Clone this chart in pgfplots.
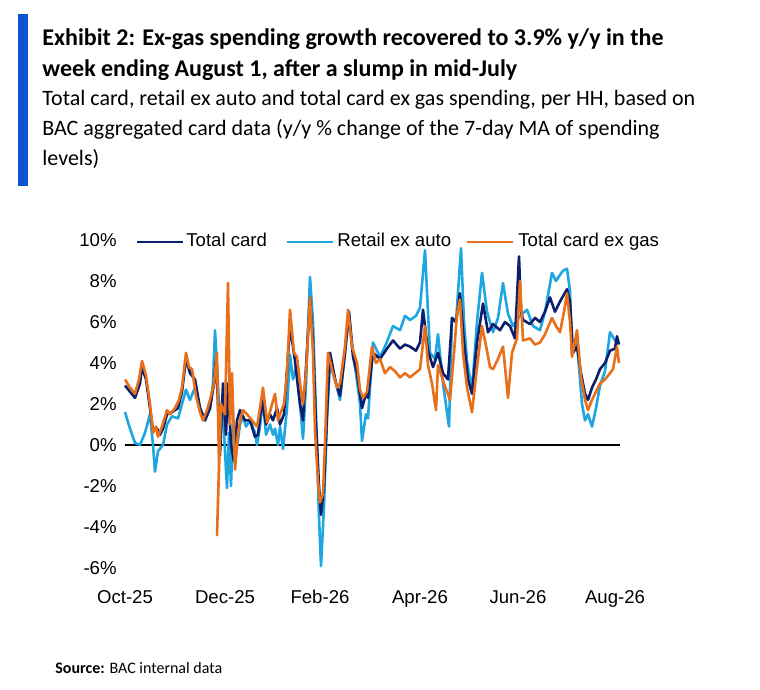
\documentclass[border=0pt]{standalone}
\usepackage{pgfplots}
\pgfplotsset{compat=1.18}
\usepackage{fontspec}
\setmainfont{Carlito}
\newfontfamily\arial{Liberation Sans}
\definecolor{navyc}{HTML}{0B1F6E}
\definecolor{lblue}{HTML}{1EA6E0}
\definecolor{orng}{HTML}{E8701A}
\definecolor{bacblue}{HTML}{0A55D0}
\begin{document}
\begin{tikzpicture}
\begin{scope}[x=0.5pt,y=-0.5pt]
\path[use as bounding box,fill=white] (0,0) rectangle (760,690);
\fill[bacblue] (18,14) rectangle (28,186);
\node[anchor=base west,font=\fontsize{12}{13}\selectfont\bfseries,inner sep=0] at (42,46) {Exhibit 2: Ex-gas spending growth recovered to 3.9\% y/y in the};
\node[anchor=base west,font=\fontsize{12}{13}\selectfont\bfseries,inner sep=0] at (42,76) {week ending August 1, after a slump in mid-July};
\node[anchor=base west,font=\fontsize{11}{13}\selectfont,inner sep=0] at (42,105) {Total card, retail ex auto and total card ex gas spending, per HH, based on};
\node[anchor=base west,font=\fontsize{11}{13}\selectfont,inner sep=0] at (42,135) {BAC aggregated card data (y/y \% change of the 7-day MA of spending};
\node[anchor=base west,font=\fontsize{11}{13}\selectfont,inner sep=0] at (42,165) {levels)};
\node[anchor=base west,font=\fontsize{8}{10}\selectfont,inner sep=0] at (55,673) {\textbf{Source:} BAC internal data};
\end{scope}
\begin{axis}[at={(62.5pt,-284pt)},anchor=south west,scale only axis,
  width=247.5pt,height=164pt,
  xmin=125,xmax=620,ymin=-6,ymax=10,
  axis lines=none,clip=false,
  every axis plot/.append style={line width=1.3pt,line join=round},
  ]
\addplot[black,line width=1pt,forget plot] coordinates {(125,0)(620,0)};
\foreach \v/\l in {10/10\%,8/8\%,6/6\%,4/4\%,2/2\%,0/0\%,-2/-2\%,-4/-4\%,-6/-6\%}{
  \edef\tmp{\noexpand\node[anchor=east,font=\noexpand\arial\noexpand\fontsize{9.3}{10}\noexpand\selectfont,inner sep=0] at (axis cs:117,\v) {\l};}\tmp}
\foreach \p/\l in {125/Oct-25,225/Dec-25,320/Feb-26,420/Apr-26,518/Jun-26,615/Aug-26}{
  \edef\tmp{\noexpand\node[anchor=base,font=\noexpand\arial\noexpand\fontsize{9.3}{10}\noexpand\selectfont,inner sep=0] at (axis cs:\p,-7.75) {\l};}\tmp}
\addplot[lblue] coordinates {
(125,1.6)(130,0.8)(135,0.1)(140,0.0)(145,0.6)(150,1.5)(153,0.0)(155,-1.3)(158,-0.3)(163,0.0)(167,1.0)(172,1.4)(178,1.3)(182,2.0)(186,2.7)(190,2.2)(195,2.8)(200,1.8)(205,1.2)(210,1.8)(213,3.0)(215,5.6)(218,3.0)(220,0.5)(223,1.5)(225,-0.3)(227,-2.1)(229,0.6)(231,-2.0)(233,1.0)(236,-0.5)(240,1.0)(243,1.4)(246,0.9)(250,1.2)(255,0.6)(257,0.0)(260,0.9)(263,2.2)(266,0.5)(270,1.0)(273,0.5)(275,0.8)(278,0.0)(280,0.9)(283,-0.2)(287,1.8)(290,4.4)(293,3.2)(296,3.8)(300,2.0)(303,0.3)(306,3.0)(310,8.2)(313,6.0)(316,1.5)(319,-3.5)(321,-5.9)(324,-3.0)(327,1.3)(330,4.0)(336,3.0)(340,2.2)(345,4.5)(349,6.4)(353,4.5)(356,3.5)(360,2.0)(362,0.2)(366,1.5)(368,1.3)(373,5.0)(380,4.3)(385,4.8)(393,5.8)(400,5.6)(405,6.3)(410,6.1)(416,6.3)(420,6.7)(425,9.5)(430,4.5)(435,4.2)(438,5.4)(443,3.0)(449,0.9)(452,6.2)(456,6.0)(461,9.6)(464,6.0)(467,4.1)(472,2.7)(477,6.0)(482,8.4)(487,6.5)(493,5.5)(498,6.2)(503,7.9)(508,6.4)(513,5.8)(520,6.3)(527,6.6)(533,5.8)(540,5.6)(545,6.5)(552,8.4)(556,8.0)(560,8.3)(563,8.5)(567,8.6)(570,7.5)(572,4.5)(577,5.0)(582,2.0)(585,1.2)(588,1.5)(592,0.9)(596,1.8)(600,2.9)(605,3.6)(610,5.5)(615,5.1)(619,5.0)};
\addplot[navyc] coordinates {
(125,2.9)(130,2.6)(135,2.3)(140,3.0)(142,3.8)(146,3.2)(150,1.8)(153,0.7)(157,0.8)(160,0.5)(163,0.8)(167,1.5)(172,1.6)(178,1.8)(182,2.6)(186,4.2)(190,3.5)(195,3.2)(200,1.8)(205,1.2)(210,1.8)(214,3.0)(216,4.2)(218,2.0)(220,-0.5)(223,3.0)(226,0.5)(228,3.0)(231,0.0)(234,-0.8)(237,1.2)(240,1.7)(245,1.2)(250,1.2)(255,0.4)(258,0.5)(262,2.2)(266,1.0)(270,1.5)(273,1.2)(277,1.8)(280,1.0)(284,1.5)(290,5.8)(295,4.1)(300,2.0)(303,1.2)(310,7.2)(313,5.0)(316,1.0)(319,-2.0)(321,-3.4)(324,-2.0)(327,1.5)(330,4.5)(336,3.0)(340,2.4)(345,4.5)(349,6.5)(353,4.3)(357,3.5)(362,1.8)(366,2.5)(368,2.3)(373,4.5)(380,4.2)(387,4.7)(393,5.1)(400,4.7)(405,4.9)(410,4.8)(416,4.6)(420,5.0)(423,6.6)(428,4.6)(433,3.8)(438,4.5)(443,3.5)(448,3.2)(452,6.2)(456,6.0)(460,7.4)(464,5.0)(468,3.2)(472,2.5)(477,5.0)(483,6.9)(488,5.5)(493,5.9)(500,5.6)(505,6.0)(510,5.8)(515,5.2)(519,9.2)(521,6.5)(523,6.1)(530,5.9)(535,6.2)(540,6.0)(545,6.5)(550,7.2)(555,6.5)(560,7.0)(567,7.6)(570,7.0)(573,4.5)(577,4.8)(581,3.5)(585,2.5)(588,2.2)(592,2.8)(596,3.2)(600,3.7)(605,4.0)(610,4.6)(615,4.7)(617,5.3)(619,4.9)};
\addplot[orng] coordinates {
(125,3.2)(130,2.8)(135,2.5)(139,3.2)(142,4.1)(146,3.4)(150,2.0)(153,0.6)(156,0.9)(158,0.4)(162,0.9)(167,1.7)(170,1.5)(175,1.8)(179,2.2)(182,2.8)(186,4.5)(189,3.8)(192,3.7)(196,2.4)(200,1.6)(203,1.2)(207,1.7)(210,2.2)(214,3.0)(217,4.5)(219,-1.0)(217,-4.4)(221,2.0)(225,1.5)(228,7.9)(230,1.0)(232,3.5)(235,-1.2)(238,0.6)(241,1.4)(243,1.7)(247,1.5)(252,1.2)(257,0.9)(260,1.8)(263,2.8)(267,1.1)(271,1.8)(275,2.5)(278,1.2)(280,1.5)(284,2.0)(287,3.5)(290,6.6)(294,4.5)(297,4.3)(300,3.0)(303,2.0)(306,3.5)(310,7.2)(313,4.5)(315,0.7)(318,-1.8)(320,-2.8)(323,-2.4)(325,0.1)(328,4.5)(333,3.5)(337,2.8)(340,3.0)(345,4.8)(348,6.6)(352,4.8)(357,4.0)(360,2.7)(363,2.3)(367,2.6)(372,4.8)(376,4.0)(380,4.2)(385,3.5)(390,3.8)(395,3.6)(400,3.3)(405,3.5)(410,3.3)(415,3.5)(420,3.7)(425,5.8)(428,3.9)(432,3.0)(436,1.7)(438,3.9)(444,3.0)(450,2.2)(454,4.5)(457,6.4)(460,7.1)(463,4.5)(467,2.8)(472,1.6)(477,3.8)(482,5.8)(487,4.6)(490,3.8)(493,3.7)(498,4.2)(503,4.8)(508,2.3)(512,4.5)(517,5.2)(520,8.0)(523,5.1)(530,5.2)(535,4.9)(540,5.0)(545,5.4)(552,6.2)(556,5.8)(560,5.5)(564,6.5)(567,7.4)(570,6.0)(572,4.3)(577,5.6)(581,3.3)(585,2.2)(588,1.7)(592,2.2)(596,2.6)(600,3.0)(605,3.2)(610,3.5)(613,3.7)(617,4.8)(619,4.0)};
\end{axis}
\begin{scope}[x=0.5pt,y=-0.5pt,font=\arial\fontsize{9.3}{10}\selectfont]
\draw[navyc,line width=1.3pt] (137,242)--(183,242); \node[anchor=west,inner sep=0] at (186,242) {\strut Total card};
\draw[lblue,line width=1.3pt] (287,242)--(333,242); \node[anchor=west,inner sep=0] at (337,242) {\strut Retail ex auto};
\draw[orng,line width=1.3pt] (467,242)--(513,242); \node[anchor=west,inner sep=0] at (518,242) {\strut Total card ex gas};
\end{scope}
\end{tikzpicture}
\end{document}
